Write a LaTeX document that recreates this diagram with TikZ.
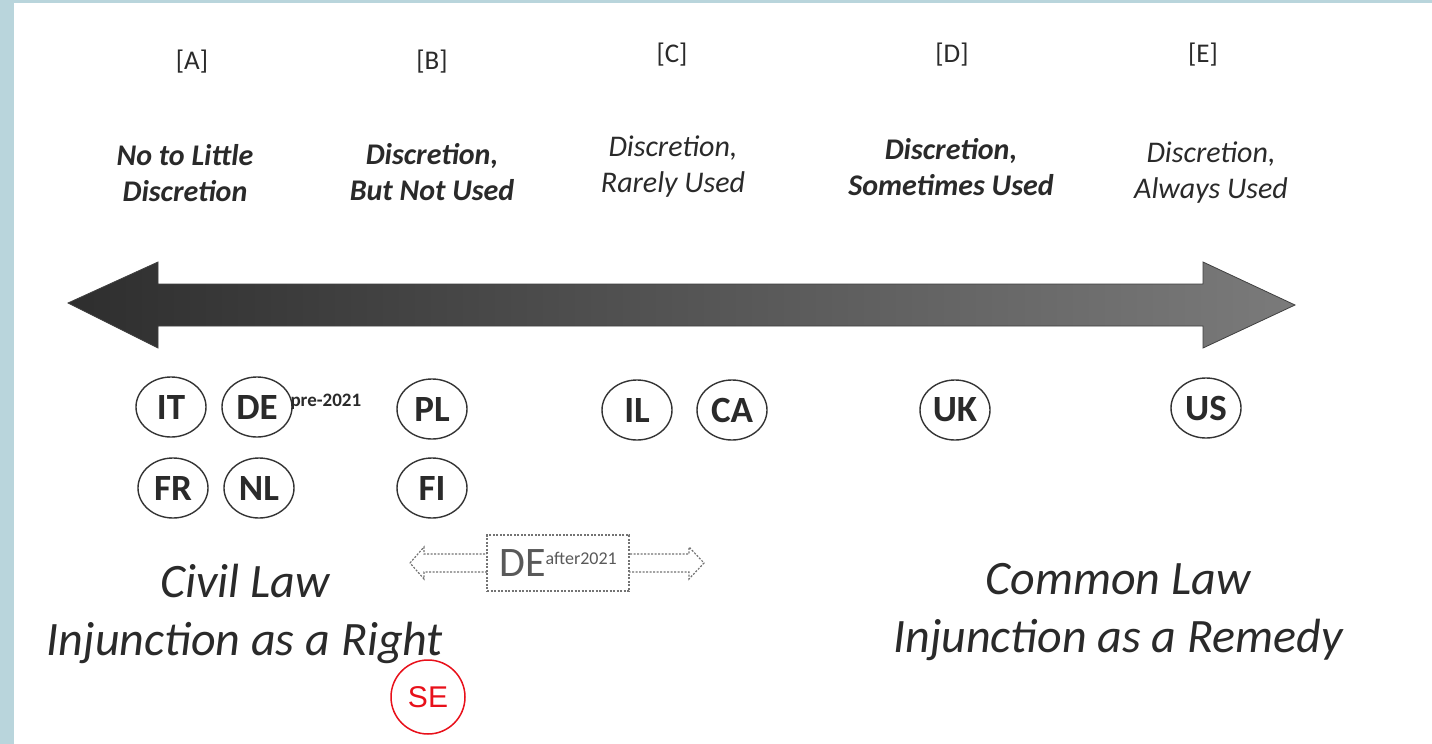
\documentclass[tikz,border=0pt]{standalone}
\usepackage{fontspec}
\setmainfont{Carlito}
\newfontfamily\arialf{Liberation Sans}
\usetikzlibrary{shapes.geometric}
\definecolor{frame}{HTML}{B9D5DC}
\definecolor{ink}{HTML}{2A2A2A}
\definecolor{sered}{HTML}{E8101A}
\tikzset{
  letter/.style={font=\fontsize{27}{27}\selectfont, text=ink},
  headb/.style={align=center, font=\fontsize{30}{36}\selectfont\itshape\bfseries, text=ink},
  headr/.style={align=center, font=\fontsize{30}{36}\selectfont\itshape, text=ink},
  cty/.style={ellipse, draw=black!80, line width=1.4pt, minimum width=70pt, minimum height=60pt, inner sep=0pt, font=\fontsize{37}{37}\selectfont\bfseries, text=ink},
  law/.style={align=center, font=\fontsize{48}{58}\selectfont\itshape, text=ink},
}
\begin{document}
\begin{tikzpicture}[x=1pt,y=-1pt]
\useasboundingbox (0,0) rectangle (1432,744);
\fill[white] (0,0) rectangle (1432,744);
\fill[frame] (0,0) rectangle (14,744);
\fill[frame] (0,0) rectangle (1432,3);

% column letters
\node[letter] (la) at (192,62) {[A]};
\node[letter] (lb) at (432,62) {[B]};
\node[letter] (lc) at (672,55) {[C]};
\node[letter] (ld) at (952,55) {[D]};
\node[letter] (le) at (1203,55) {[E]};

% headings
\node[headb] (ha) at (185,173) {No to Little\\Discretion};
\node[headb] (hb) at (432,172) {Discretion,\\But Not Used};
\node[headr] (hc) at (673,167) {Discretion,\\Rarely Used};
\node[headb] (hd) at (951,167) {Discretion,\\Sometimes Used};
\node[headr] (he) at (1211,173) {Discretion,\\Always Used};

% big double arrow
\shade[left color=black!82, middle color=black!73, right color=black!52, draw=black!75, line width=0.8pt]
  (68,303) -- (158,262) -- (158,284) -- (1203,284) -- (1203,262) -- (1295,305)
  -- (1203,348) -- (1203,326) -- (158,326) -- (158,348) -- cycle;

% countries
\node[cty] (it) at (171,407) {IT};
\node[cty] (de) at (257,407) {DE};
\node[font=\fontsize{19}{19}\selectfont\bfseries, text=ink, anchor=west] (pre) at (287,402) {pre-2021};
\node[cty] (pl) at (432,409) {PL};
\node[cty] (fr) at (173,488) {FR};
\node[cty] (nl) at (259,488) {NL};
\node[cty] (fi) at (432,488) {FI};
\node[cty] (il) at (637,410) {IL};
\node[cty] (ca) at (732,410) {CA};
\node[cty] (uk) at (955,410) {UK};
\node[cty] (us) at (1206,408) {US};

% DE after 2021 outline arrow
\draw[black!55, dashed, line width=1.2pt, dash pattern=on 2pt off 1.5pt, fill=white]
  (410,563) -- (424,547) -- (424,554) -- (689,554) -- (689,547) -- (704,563)
  -- (689,579) -- (689,572) -- (424,572) -- (424,579) -- cycle;
\node[draw=black!55, dashed, dash pattern=on 2pt off 1.5pt, line width=1.2pt, fill=white,
      minimum width=142pt, minimum height=56pt, inner sep=0pt] (deafter) at (558,563)
  {\textcolor{black!65}{\fontsize{42}{42}\selectfont DE\raisebox{12pt}{\fontsize{18}{18}\selectfont after2021}}};

% law families
\node[law] (civil) at (245,614) {Civil Law\\Injunction as a Right};
\node[law] (common) at (1118,612) {Common Law\\Injunction as a Remedy};

% SE
\node[circle, draw=sered, line width=1.5pt, minimum size=74pt, inner sep=0pt,
      font=\arialf\fontsize{30}{30}\selectfont, text=sered] (se) at (428,697) {SE};
\end{tikzpicture}
\end{document}
